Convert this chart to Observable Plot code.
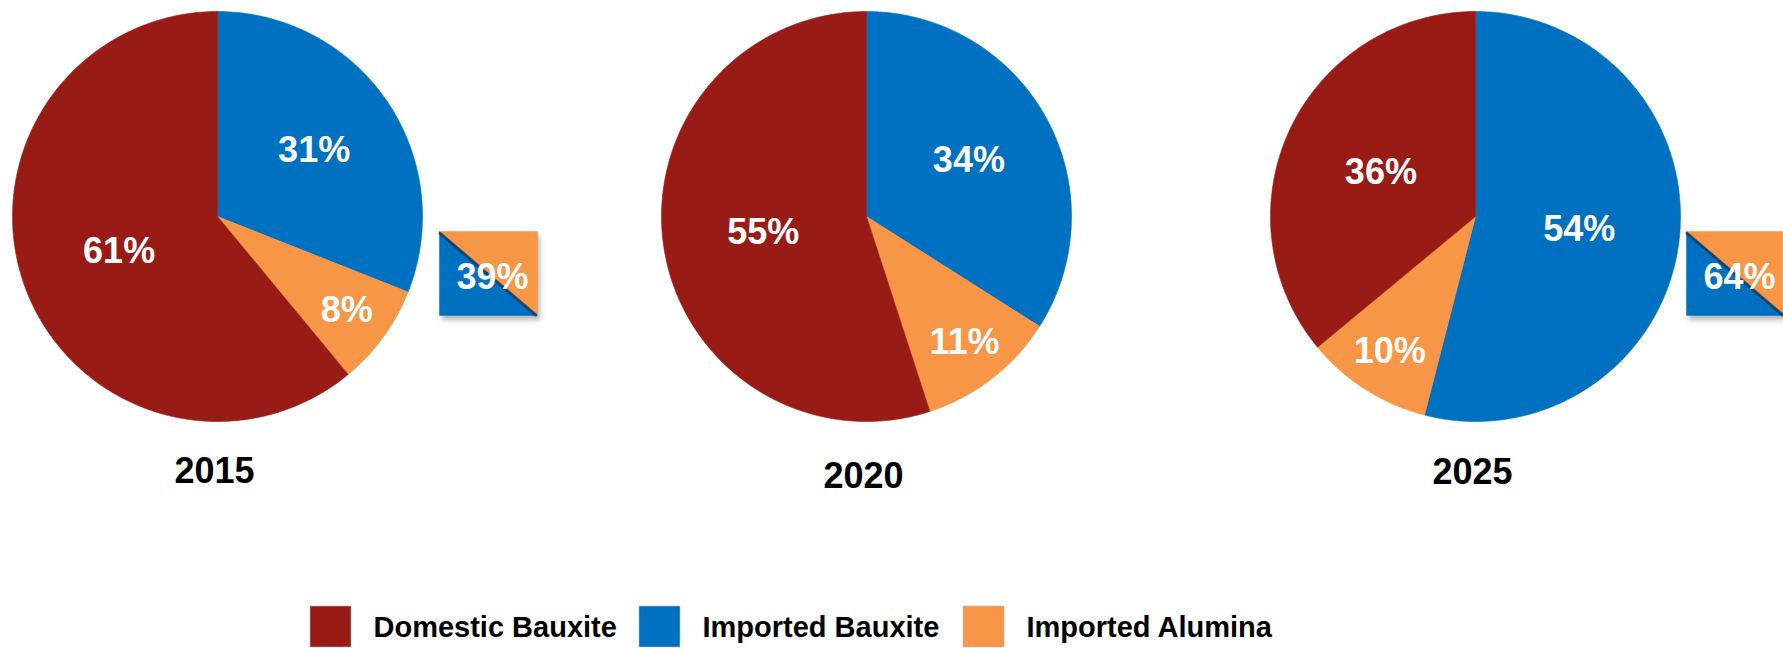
<!DOCTYPE html>
<html>
<head>
<meta charset="utf-8">
<script src="https://cdn.jsdelivr.net/npm/d3@7"></script>
<script src="https://cdn.jsdelivr.net/npm/@observablehq/plot@0.6"></script>
<style>
  html, body { margin: 0; padding: 0; background: #ffffff; }
  #chart { width: 1783px; height: 648px; overflow: hidden; }
</style>
</head>
<body>
<div id="chart"></div>
<script>
// ---------------- DATA ----------------
const years = ["2015", "2020", "2025"];
// slice order, clockwise from 12 o'clock
const sliceOrder = ["Imported Bauxite", "Imported Alumina", "Domestic Bauxite"];
const importedBauxite = [31, 34, 54];
const importedAlumina = [8, 11, 10];
const domesticBauxite = [61, 55, 36];
// total imported share shown in the callout boxes (none for 2020)
const importedTotal = [39, null, 64];
const legendLabels = ["Domestic Bauxite", "Imported Bauxite", "Imported Alumina"];
const legendColors = ["#991B16", "#0070C0", "#F79646"];

// ---------------- LAYOUT ----------------
const W = 1783, H = 648;
const pieCx = [217, 866, 1475];
const pieCy = 216, pieR = 205;
const calloutDx = [222, null, 211], calloutDy = 15, calloutW = 98, calloutH = 84;
const yearDy = [255, 260, 256];
const legendSwatchX = [310, 639, 963], legendY = 606, swatch = 41, legendGap = 22;
const FONT = "'Liberation Sans', Arial, Helvetica, sans-serif";

// ---------------- BUILD GEOMETRY FROM VALUES ----------------
const rad = Math.PI / 180;
const pt = (cx, cy, r, deg) => ({ x: cx + r * Math.sin(deg * rad), y: cy - r * Math.cos(deg * rad) });

const slicePts = [];
const labels = [];
years.forEach((yr, i) => {
  const vals = [importedBauxite[i], importedAlumina[i], domesticBauxite[i]];
  const total = d3.sum(vals);
  let a = 0;
  vals.forEach((v, j) => {
    const a0 = a, a1 = a + (v / total) * 360;
    const id = yr + "-" + sliceOrder[j];
    const cat = sliceOrder[j];
    slicePts.push({ id, category: cat, x: pieCx[i], y: pieCy });
    const n = Math.max(2, Math.ceil((a1 - a0) / 0.5));
    for (let k = 0; k <= n; k++) {
      const p = pt(pieCx[i], pieCy, pieR, a0 + (a1 - a0) * k / n);
      slicePts.push({ id, category: cat, x: p.x, y: p.y });
    }
    slicePts.push({ id, category: cat, x: pieCx[i], y: pieCy });
    const mid = (a0 + a1) / 2;
    const frac = v / total < 0.15 ? 0.78 : (v / total < 0.35 ? 0.57 : 0.51);
    const lp = pt(pieCx[i], pieCy, pieR * frac, mid);
    labels.push({ x: lp.x, y: lp.y, text: v + "%" });
    a = a1;
  });
});

const callouts = [];
const calloutPts = [];
const diagPts = [];
years.forEach((yr, i) => {
  if (importedTotal[i] == null) return;
  const L = pieCx[i] + calloutDx[i], T = pieCy + calloutDy, R = L + calloutW, B = T + calloutH;
  callouts.push({ L, T, R, B, text: importedTotal[i] + "%" });
  // blue lower-left triangle, orange upper-right triangle
  [[L, T], [L, B], [R, B], [L, T]].forEach(([x, y]) => calloutPts.push({ id: yr + "b", category: "Imported Bauxite", x, y }));
  [[L, T], [R, T], [R, B], [L, T]].forEach(([x, y]) => calloutPts.push({ id: yr + "a", category: "Imported Alumina", x, y }));
  diagPts.push({ id: yr, x: L + 0.5, y: T + 1.8 }, { id: yr, x: R - 1.8, y: B - 0.5 });
});

const legend = legendLabels.map((label, i) => ({
  label,
  x1: legendSwatchX[i],
  x2: legendSwatchX[i] + swatch,
  y1: legendY,
  y2: legendY + swatch,
}));

// ---------------- PLOT ----------------
const chart = Plot.plot({
  width: W,
  height: H,
  margin: 0,
  x: { domain: [0, W], range: [0, W], axis: null },
  y: { domain: [0, H], range: [0, H], axis: null },
  color: { domain: legendLabels, range: legendColors },
  style: { background: "#ffffff", overflow: "hidden" },
  marks: [
    // callout drop shadows
    Plot.rect(callouts, {
      x1: d => d.L + 3, x2: d => d.R + 3, y1: d => d.T + 5, y2: d => d.B + 5,
      fill: "#000", fillOpacity: 0.28, imageFilter: "blur(2.5px)"
    }),
    // pie slices
    Plot.line(slicePts, { x: "x", y: "y", z: "id", fill: "category", stroke: "category", strokeWidth: 0.6, curve: "linear" }),
    // callout boxes
    Plot.line(calloutPts, { x: "x", y: "y", z: "id", fill: "category", stroke: "category", strokeWidth: 0.5, curve: "linear" }),
    Plot.line(diagPts, { x: "x", y: "y", z: "id", stroke: "#08355f", strokeWidth: 3, strokeOpacity: 0.75, imageFilter: "blur(0.6px)" }),
    // slice labels
    Plot.text(labels, { x: "x", y: "y", text: "text", fill: "white", fontSize: 36, fontWeight: "bold", fontFamily: FONT }),
    Plot.text(callouts, { x: d => (d.L + d.R) / 2 + 4, y: d => (d.T + d.B) / 2 + 4, text: "text", fill: "white", fontSize: 36, fontWeight: "bold", fontFamily: FONT }),
    // year labels
    Plot.text(years, { x: (d, i) => pieCx[i] - 3, y: (d, i) => pieCy + yearDy[i], text: d => d, fill: "black", fontSize: 36, fontWeight: "bold", fontFamily: FONT }),
    // legend
    Plot.rect(legend, { x1: "x1", x2: "x2", y1: "y1", y2: "y2", fill: "label", stroke: "#bbbbbb", strokeWidth: 0.6 }),
    Plot.text(legend, { x: d => d.x2 + legendGap, y: d => (d.y1 + d.y2) / 2 + 1, text: "label", textAnchor: "start", fill: "black", fontSize: 29, fontWeight: "bold", fontFamily: FONT }),
  ]
});
document.getElementById("chart").appendChild(chart);
</script>
</body>
</html>
